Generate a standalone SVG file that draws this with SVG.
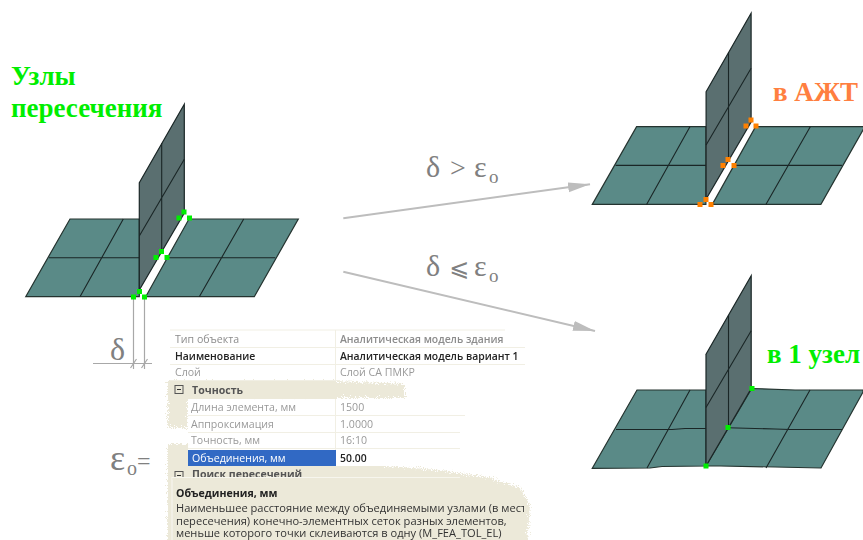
<svg xmlns="http://www.w3.org/2000/svg" xmlns:xlink="http://www.w3.org/1999/xlink" width="863" height="540" viewBox="0 0 863 540">
<style>
.plate{fill:#5a8a87;stroke:#24332f;stroke-width:1.2}
.wall{fill:#5a6f70;stroke:#1a2626;stroke-width:1.2}
.ln{fill:none;stroke:#1a2626;stroke-width:1.1}
.head{font-family:"Liberation Serif",serif;font-weight:bold;font-size:27px}
.sym{font-family:"Liberation Serif","DejaVu Serif",serif;fill:#808080}
.arrow{fill:none;stroke:#bdbdbd;stroke-width:2;marker-end:url(#ah)}
.dim{fill:none;stroke:#a8a8a8;stroke-width:1.2}
.t{font-family:"Open Sans","Noto Sans",sans-serif;font-size:10.6px;fill:#222}
.tip{font-size:11.1px;fill:#333}
.b{font-weight:600;font-size:10.4px}
.sec{fill:#555;font-weight:700}
.f{fill:#8c8c8c}
.g{fill:#777;opacity:.75}
.sep{stroke:#f1efe4;stroke-width:1;fill:none}
.gn{fill:#00ee00}
.or{fill:#ff8000}
</style>
<defs>
<marker id="ah" markerUnits="userSpaceOnUse" markerWidth="24" markerHeight="12" refX="22" refY="5" orient="auto"><path d="M0 0L22 5L0 10Z" fill="#bdbdbd"/></marker>
<filter id="rough" x="-5%" y="-5%" width="110%" height="110%"><feTurbulence type="fractalNoise" baseFrequency="0.9" numOctaves="2" seed="4"/><feDisplacementMap in="SourceGraphic" scale="10" xChannelSelector="R" yChannelSelector="G"/></filter>
<filter id="soft"><feGaussianBlur stdDeviation="0.3"/></filter>
<clipPath id="tipclip"><rect x="172" y="478" width="352" height="62"/></clipPath>
<clipPath id="rowclip"><rect x="168" y="466" width="300" height="11"/></clipPath>
<g id="wallshape">
<path class="wall" d="M139.3 182.7L184.3 104.3V213L139.3 290Z"/>
<path class="ln" d="M161.7 143.3V250M139.3 236L184.3 159.3"/>
</g>
<g id="sepplates">
<path class="plate" d="M25.7 296.7L70 219H139.3V296.7Z"/>
<path class="ln" d="M49 257.7H139.3M123.3 219L80 296.7"/>
<path class="plate" d="M145.7 296.7L189 219H298.3L254.3 296.7Z"/>
<path class="ln" d="M166.7 257.7H275.3M243.7 219L199.3 296.7"/>
</g>
</defs>
<rect width="863" height="540" fill="#fff"/>

<g id="connectors">
<path class="arrow" d="M343.3 218.3L590 184.3"/>
<path class="arrow" d="M343.3 271.7L595 331"/>
<path class="dim" d="M133.5 297V369M144.5 297V369M93 363.5H152M130.5 368L136.5 359M141.5 368L147.5 359"/>
</g>

<g id="node-left">
<use xlink:href="#sepplates"/>
<use xlink:href="#wallshape"/>
<g class="gn">
<rect x="137" y="289" width="5" height="5"/><rect x="131" y="294.5" width="5" height="5"/><rect x="142" y="294.5" width="5" height="5"/>
<rect x="159" y="249" width="5" height="5"/><rect x="153.5" y="255" width="5" height="5"/><rect x="164.5" y="255" width="5" height="5"/>
<rect x="181.5" y="209.5" width="5" height="5"/><rect x="176.5" y="215.5" width="5" height="5"/><rect x="187" y="215.5" width="5" height="5"/>
</g>
<text class="head" x="11" y="85" fill="#00ee00">Узлы</text>
<text class="head" x="11" y="117" fill="#00ee00">пересечения</text>
</g>

<g id="node-azht">
<use xlink:href="#sepplates" x="566.6" y="-92.3"/>
<use xlink:href="#wallshape" x="566.8" y="-91"/>
<g class="or">
<rect x="703.5" y="197" width="5" height="5"/><rect x="697.5" y="202" width="5" height="5"/><rect x="708.5" y="202" width="5" height="5"/>
<rect x="725.5" y="157" width="5" height="5"/><rect x="720.5" y="163" width="5" height="5"/><rect x="731.5" y="163" width="5" height="5"/>
<rect x="748.5" y="117.5" width="5" height="5"/><rect x="743.5" y="123.5" width="5" height="5"/><rect x="753.5" y="123.5" width="5" height="5"/>
</g>
<text class="head" x="773" y="101" fill="#ff7f40">в АЖТ</text>
</g>

<g id="node-merged">
<path class="plate" d="M592.3 468.3L637 390H706V466L662 466.5L650 468Z"/>
<path class="plate" d="M706 466L751.7 388.5L795 390H863V392L821 468L775 467L720 466Z"/>
<path class="ln" d="M616 429.5H672L685 428.5H706M728 427.7L775 429L790 429.5H842M690 390L647 468M810 390L766 468"/>
<path class="wall" d="M706 354.2L751.2 275.8V388.5L706 466Z"/>
<path class="ln" d="M728.5 315V427.7M706 407.5L751.2 330.8"/>
<g class="gn">
<rect x="703.5" y="463.5" width="5" height="5"/><rect x="725.5" y="425" width="5" height="5"/><rect x="749.5" y="386" width="5" height="5"/>
</g>
<text class="head" x="767" y="363" fill="#00ee00">в 1 узел</text>
</g>

<g id="label-gt">
<text class="sym" x="426" y="177" font-size="30">δ</text>
<text class="sym" x="450" y="177" font-size="28">&gt;</text>
<text class="sym" x="474" y="177" font-size="30">ε</text>
<text class="sym" x="489" y="183" font-size="19">o</text>
</g>
<g id="label-le">
<text class="sym" x="426" y="276" font-size="30">δ</text>
<text class="sym" x="449" y="276" font-size="24" style="font-family:'DejaVu Sans',sans-serif">⩽</text>
<text class="sym" x="474" y="276" font-size="30">ε</text>
<text class="sym" x="489" y="282" font-size="19">o</text>
</g>
<g id="label-delta"><text class="sym" x="110" y="360" font-size="32">δ</text></g>
<g id="label-eps">
<text class="sym" x="110" y="470" font-size="36">ε</text>
<text class="sym" x="127" y="475" font-size="20">o</text>
<text class="sym" x="137" y="469" font-size="24">=</text>
</g>

<g id="panel">
<g fill="#ece9d9" filter="url(#rough)">
<path d="M168 381H336L405 384V398H188V428H168Z"/>
<path d="M168 444H188V466H385L440 470L490 478L520 488L530 505L527 545H168Z"/>
</g>
<rect x="168" y="381" width="168" height="18" fill="#ece9d9"/>
<rect x="168" y="445" width="20" height="95" fill="#ece9d9"/>
<rect x="168" y="466" width="215" height="74" fill="#ece9d9"/>
<rect x="188" y="399" width="148" height="50" fill="#fff" opacity="0.9"/>
<rect x="336" y="399" width="120" height="50" fill="#fff"/>
<rect x="188" y="450" width="148" height="16" fill="#3169c4"/>
<rect x="336" y="450" width="120" height="16" fill="#fff"/>
<path class="sep" d="M170 330H505M170 347.5H525M170 364.5H525M170 380.5H340M188 415.5H465M188 432.5H460M188 448.5H460M335.5 330V381M335.5 399V450"/>
<g filter="url(#soft)">
<text class="t f" x="175" y="343">Тип объекта</text>
<text class="t f b" x="340" y="343">Аналитическая модель здания</text>
<text class="t b" x="175" y="360">Наименование</text>
<text class="t b" x="340" y="360">Аналитическая модель вариант 1</text>
<text class="t g" x="175" y="376">Слой</text>
<text class="t g" x="340" y="376">Слой СА ПМКР</text>
<text class="t sec" x="192" y="394">Точность</text>
<text class="t g" x="191" y="411">Длина элемента, мм</text>
<text class="t g" x="340" y="411">1500</text>
<text class="t g" x="191" y="428">Аппроксимация</text>
<text class="t g" x="340" y="428">1.0000</text>
<text class="t g" x="191" y="444">Точность, мм</text>
<text class="t g" x="340" y="444">16:10</text>
<text class="t" x="192" y="462" style="fill:#fff">Объединения, мм</text>
<text class="t b" x="340" y="462">50.00</text>
<text class="t sec" x="192" y="478" clip-path="url(#rowclip)">Поиск пересечений</text>
</g>
<g fill="#ece9d9" stroke="#555" stroke-width="1">
<rect x="175" y="385.5" width="8" height="8"/><rect x="175" y="471.5" width="8" height="8" clip-path="url(#rowclip)"/>
</g>
<path d="M177 389.5H181M177 475.5H181" stroke="#333" stroke-width="1"/>
<path d="M172 540V477.5H460" fill="none" stroke="#f7f6ee" stroke-width="1.2"/>
<rect x="172.5" y="478" width="290" height="2" fill="#ece9d9"/>
<g clip-path="url(#tipclip)" filter="url(#soft)">
<text class="t b" x="176" y="497" style="font-weight:700;font-size:10.6px">Объединения, мм</text>
<text class="t tip" x="176" y="512">Наименьшее расстояние между объединяемыми узлами (в мест</text>
<text class="t tip" x="176" y="525">пересечения) конечно-элементных сеток разных элементов,</text>
<text class="t tip" x="176" y="537">меньше которого точки склеиваются в одну (M_FEA_TOL_EL)</text>
</g>
</g>
</svg>
